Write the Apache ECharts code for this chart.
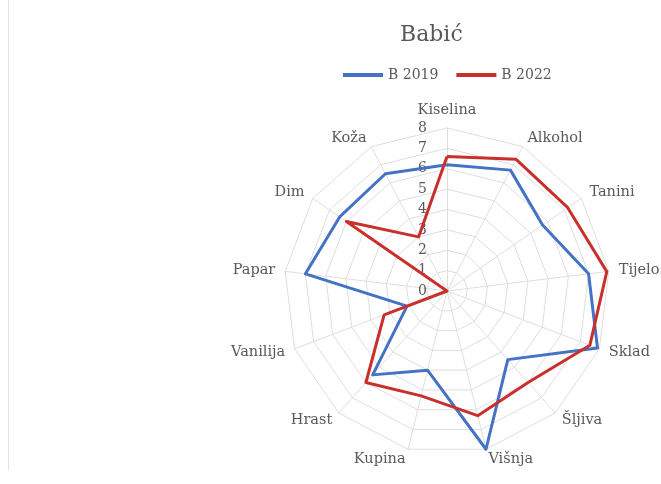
<!DOCTYPE html>
<html><head><meta charset="utf-8">
<script src="https://cdn.jsdelivr.net/npm/echarts@6/dist/echarts.min.js"></script>
<style>html,body{margin:0;padding:0;background:#fff}#c{width:661px;height:484px}</style>
</head><body><div id="c"></div>
<script>
const categories = ['Kiselina','Alkohol','Tanini','Tijelo','Sklad','Šljiva','Višnja','Kupina','Hrast','Vanilija','Papar','Dim','Koža'];
const b2019 = [6.2, 6.7, 5.7, 7.0, 7.9, 4.5, 8.0, 4.0, 5.5, 2.1, 7.0, 6.4, 6.5];
const b2022 = [6.6, 7.3, 7.2, 7.9, 7.5, 6.0, 6.3, 5.3, 6.0, 3.3, 0, 6.0, 3.0];
const seriesNames = ['B 2019', 'B 2022'];
const axisMax = 8;

// ECharts radar runs counter-clockwise; reorder so the categories run clockwise.
const order = [0].concat(categories.map((_, i) => i).slice(1).reverse());
const cw = arr => order.map(i => arr[i]);

const font = '"DejaVu Serif", "Liberation Serif", serif';
const chart = echarts.init(document.getElementById('c'));
chart.setOption({
  animation: false,
  title: { text: 'Babić', left: 395, top: 19,
    textStyle: { fontFamily: font, fontSize: 22, fontWeight: 'normal', color: '#595959' } },
  legend: { top: 63, left: 338, itemWidth: 40, itemHeight: 4, itemGap: 18, icon: 'rect',
    data: seriesNames,
    textStyle: { fontFamily: font, fontSize: 14, color: '#595959' } },
  graphic: [{ type: 'line', shape: { x1: 8.5, y1: 0, x2: 8.5, y2: 470 }, style: { stroke: '#e4e4e4', lineWidth: 1 } }],
  radar: {
    center: [447, 291], radius: 163, startAngle: 90, splitNumber: 8, shape: 'polygon',
    indicator: cw(categories).map((c, i) => i === 0
      ? { name: c, min: 0, max: axisMax, axisLabel: { show: true } }
      : { name: c, min: 0, max: axisMax }),
    axisName: { fontFamily: font, fontSize: 14.5, color: '#595959' },
    nameGap: 10,
    axisLine: { lineStyle: { color: '#dedede' } },
    splitLine: { lineStyle: { color: '#dedede' } },
    splitArea: { show: false },
    axisLabel: { show: false, fontFamily: font, fontSize: 14, color: '#595959', margin: 20 }
  },
  series: [{
    type: 'radar', symbol: 'none',
    data: [
      { name: seriesNames[0], value: cw(b2019), lineStyle: { color: '#4472C4', width: 3 }, itemStyle: { color: '#4472C4' } },
      { name: seriesNames[1], value: cw(b2022), lineStyle: { color: '#C9302C', width: 3 }, itemStyle: { color: '#C9302C' } }
    ]
  }]
});
</script></body></html>
